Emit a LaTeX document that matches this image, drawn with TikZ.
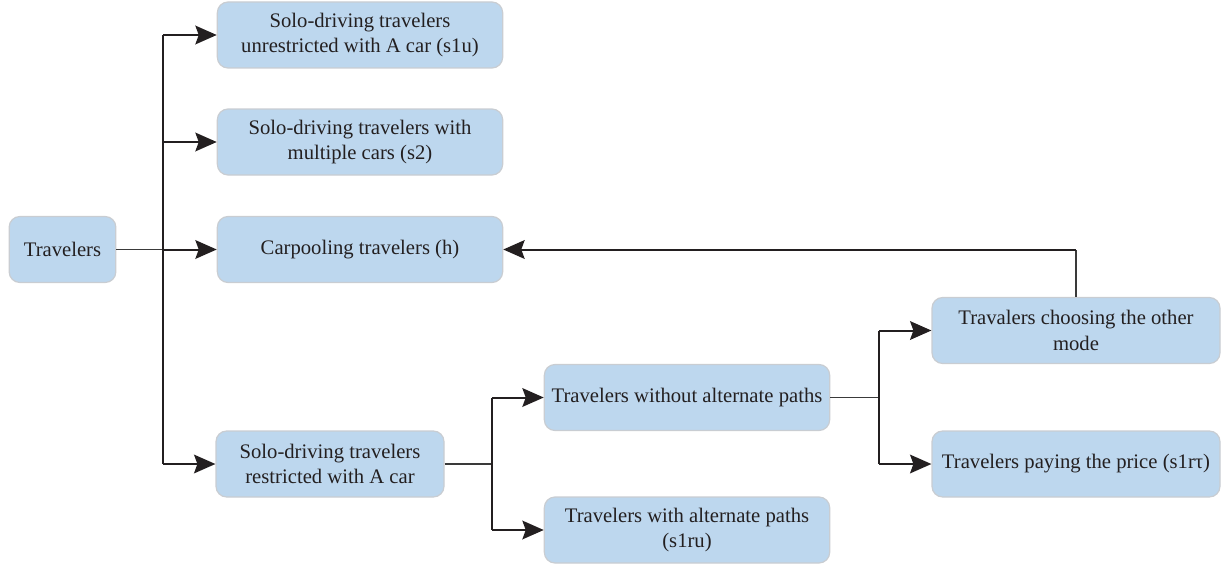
\documentclass[tikz,border=0pt]{standalone}
\usepackage{fontspec}
\setmainfont{Liberation Serif}
\usetikzlibrary{arrows.meta}
\definecolor{boxfill}{HTML}{BDD7EE}
\definecolor{boxline}{HTML}{C9CDD2}
\definecolor{ink}{HTML}{231F20}
\definecolor{stem}{HTML}{3A3A3A}
\begin{document}
\begin{tikzpicture}[x=0.75pt,y=-0.75pt,
  box/.style={draw=boxline, line width=0.9pt, fill=boxfill, rounded corners=8pt,
    minimum width=214pt, minimum height=49.5pt, align=center, inner sep=2pt,
    font=\fontsize{15.5}{19}\selectfont, text=ink},
  arr/.style={draw=ink, line width=1.5pt, -{Stealth[length=16pt,width=14pt,inset=2.5pt]}},
  trunk/.style={draw=ink, line width=1.5pt},
  thin/.style={draw=stem, line width=0.9pt}]
\useasboundingbox (0,0) rectangle (1223,567);
\node[box, minimum width=80pt] (trav) at (62.5,249.5) {Travelers};
\node[box] (s1u) at (360,35) {Solo-driving travelers\\unrestricted with A car (s1u)};
\node[box] (s2) at (360,142) {Solo-driving travelers with\\multiple cars (s2)};
\node[box] (h) at (360,249.5) {Carpooling travelers (h)};
\node[box, minimum width=171pt] (res) at (330,464) {Solo-driving travelers\\restricted with A car};
\node[box] (wo) at (687,397.5) {Travelers without alternate paths};
\node[box] (wa) at (687,530) {Travelers with alternate paths\\(s1ru)};
\node[box, minimum width=216pt] (om) at (1076,330.5) {Travalers choosing the other\\mode};
\node[box, minimum width=216pt] (pay) at (1076,464) {Travelers paying the price (s1rτ)};

\coordinate (t1) at (163,249.5);
\coordinate (t1a) at (163,35);
\coordinate (t1b) at (163,464);
\draw[thin] (trav.east) -- (t1);
\draw[trunk] (t1a) -- (t1b);
\draw[arr] (t1a) -- (s1u.west);
\draw[arr] (163,142) -- (s2.west);
\draw[arr] (t1) -- (h.west);
\draw[arr] (t1b) -- (res.west);

\coordinate (t2) at (492,464);
\coordinate (t2a) at (492,397.5);
\coordinate (t2b) at (492,530);
\draw[thin] (res.east) -- (t2);
\draw[trunk] (t2a) -- (t2b);
\draw[arr] (t2a) -- (wo.west);
\draw[arr] (t2b) -- (wa.west);

\coordinate (t3) at (879,397.5);
\coordinate (t3a) at (879,330.5);
\coordinate (t3b) at (879,464);
\draw[thin] (wo.east) -- (t3);
\draw[trunk] (t3a) -- (t3b);
\draw[arr] (t3a) -- (om.west);
\draw[arr] (t3b) -- (pay.west);

\coordinate (up) at (1076,249.5);
\draw[thin] (om.north) -- (up);
\draw[arr] (up) -- (h.east);
\end{tikzpicture}
\end{document}
